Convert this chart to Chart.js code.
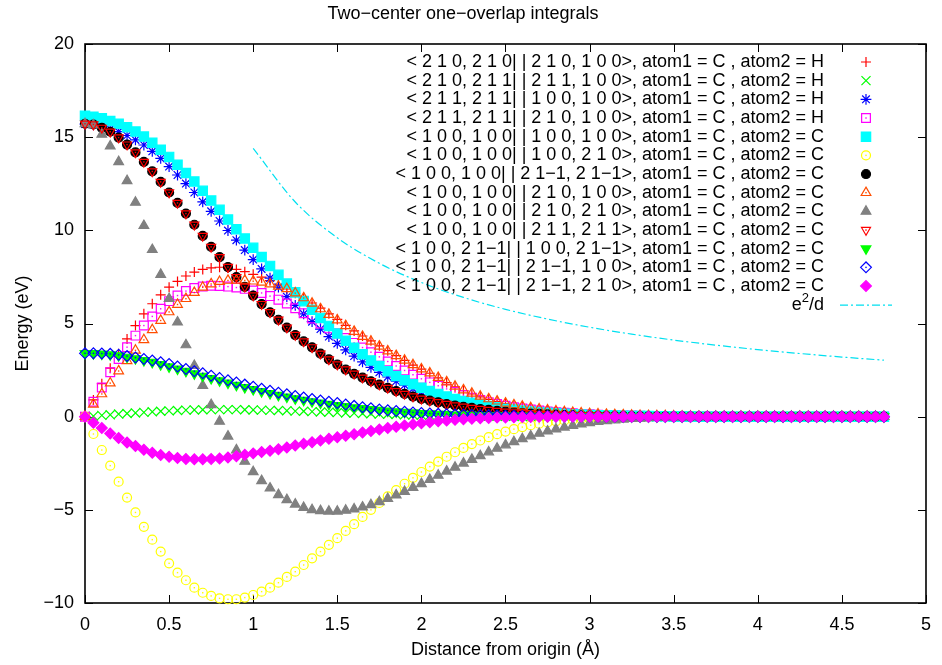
<!DOCTYPE html>
<html>
<head>
<meta charset="utf-8">
<title>Two-center one-overlap integrals</title>
<script src="https://cdn.jsdelivr.net/npm/chart.js@4.4.1/dist/chart.umd.min.js"></script>
<style>
  html, body { margin: 0; padding: 0; background: #fff; }
  #wrap { width: 942px; height: 665px; }
</style>
</head>
<body>
<div id="wrap"><canvas id="chartOverlap" width="942" height="665"></canvas></div>
<script>
// distance grid (Å), one sample every 0.05
const distances = [
  0, 0.05, 0.1, 0.15, 0.2, 0.25, 0.3, 0.35, 0.4, 0.45,
  0.5, 0.55, 0.6, 0.65, 0.7, 0.75, 0.8, 0.85, 0.9, 0.95,
  1, 1.05, 1.1, 1.15, 1.2, 1.25, 1.3, 1.35, 1.4, 1.45,
  1.5, 1.55, 1.6, 1.65, 1.7, 1.75, 1.8, 1.85, 1.9, 1.95,
  2, 2.05, 2.1, 2.15, 2.2, 2.25, 2.3, 2.35, 2.4, 2.45,
  2.5, 2.55, 2.6, 2.65, 2.7, 2.75, 2.8, 2.85, 2.9, 2.95,
  3, 3.05, 3.1, 3.15, 3.2, 3.25, 3.3, 3.35, 3.4, 3.45,
  3.5, 3.55, 3.6, 3.65, 3.7, 3.75, 3.8, 3.85, 3.9, 3.95,
  4, 4.05, 4.1, 4.15, 4.2, 4.25, 4.3, 4.35, 4.4, 4.45,
  4.5, 4.55, 4.6, 4.65, 4.7, 4.75,
];

// --- C-H integrals (eV) ---
const ch_210_210_210_100 = [
  0, 0.9, 1.77, 2.6, 3.38, 4.17, 4.89, 5.52, 6.06, 6.54,
  6.95, 7.26, 7.55, 7.76, 7.9, 7.98, 8.02, 7.98, 7.9, 7.78,
  7.64, 7.49, 7.3, 7.08, 6.86, 6.62, 6.38, 6.1, 5.82, 5.52,
  5.22, 4.9, 4.6, 4.33, 4.07, 3.8, 3.54, 3.28, 3.02, 2.77,
  2.55, 2.33, 2.08, 1.83, 1.6, 1.4, 1.22, 1.06, 0.93, 0.81,
  0.7, 0.61, 0.53, 0.46, 0.4, 0.34, 0.29, 0.25, 0.22, 0.19,
  0.16, 0.14, 0.12, 0.1, 0.09, 0.07, 0.06, 0.05, 0.04, 0.04,
  0.03, 0.02, 0.02, 0.01, 0.01, 0.01, 0, 0, 0, 0,
  0, 0, 0, 0, 0, 0, 0, 0, 0, 0,
  0, 0, 0, 0, 0, 0,
];
const ch_210_211_211_100 = [
  0, 0.03, 0.07, 0.1, 0.14, 0.17, 0.2, 0.23, 0.26, 0.29,
  0.31, 0.33, 0.35, 0.36, 0.37, 0.38, 0.38, 0.38, 0.38, 0.37,
  0.36, 0.35, 0.34, 0.33, 0.32, 0.3, 0.29, 0.27, 0.25, 0.24,
  0.22, 0.2, 0.19, 0.17, 0.16, 0.14, 0.13, 0.12, 0.1, 0.09,
  0.08, 0.07, 0.06, 0.06, 0.05, 0.04, 0.04, 0.03, 0.03, 0.02,
  0.02, 0.02, 0.01, 0.01, 0.01, 0.01, 0, 0, 0, 0,
  0, 0, 0, 0, 0, 0, 0, 0, 0, 0,
  0, 0, 0, 0, 0, 0, 0, 0, 0, 0,
  0, 0, 0, 0, 0, 0, 0, 0, 0, 0,
  0, 0, 0, 0, 0, 0,
];
const ch_211_211_100_100 = [
  15.7, 15.66, 15.57, 15.45, 15.3, 15.09, 14.85, 14.58, 14.24, 13.86,
  13.42, 12.97, 12.51, 12.03, 11.53, 11.02, 10.5, 9.99, 9.47, 8.94,
  8.43, 7.93, 7.44, 6.95, 6.44, 5.97, 5.52, 5.1, 4.7, 4.3,
  3.93, 3.58, 3.25, 2.94, 2.65, 2.38, 2.13, 1.9, 1.69, 1.5,
  1.33, 1.17, 1.03, 0.9, 0.79, 0.69, 0.6, 0.52, 0.45, 0.39,
  0.33, 0.28, 0.24, 0.2, 0.17, 0.14, 0.12, 0.1, 0.08, 0.07,
  0.06, 0.05, 0.04, 0.03, 0.03, 0.02, 0.02, 0.01, 0.01, 0,
  0, 0, 0, 0, 0, 0, 0, 0, 0, 0,
  0, 0, 0, 0, 0, 0, 0, 0, 0, 0,
  0, 0, 0, 0, 0, 0,
];
const ch_211_211_210_100 = [
  0, 0.8, 1.57, 2.38, 3.1, 3.73, 4.35, 4.89, 5.38, 5.79,
  6.2, 6.5, 6.74, 6.9, 6.99, 7.03, 7.01, 6.98, 6.93, 6.86,
  6.77, 6.64, 6.47, 6.28, 6.07, 5.82, 5.55, 5.27, 5.0, 4.74,
  4.48, 4.22, 3.96, 3.71, 3.46, 3.21, 2.96, 2.72, 2.48, 2.25,
  2.03, 1.84, 1.66, 1.49, 1.32, 1.16, 1.02, 0.89, 0.78, 0.68,
  0.59, 0.51, 0.44, 0.38, 0.33, 0.28, 0.24, 0.21, 0.18, 0.15,
  0.13, 0.11, 0.09, 0.08, 0.07, 0.06, 0.05, 0.04, 0.03, 0.03,
  0.02, 0.02, 0.01, 0.01, 0.01, 0, 0, 0, 0, 0,
  0, 0, 0, 0, 0, 0, 0, 0, 0, 0,
  0, 0, 0, 0, 0, 0,
];

// --- C-C integrals (eV) ---
const cc_100_100_100_100 = [
  16.15, 16.1, 16.02, 15.87, 15.72, 15.53, 15.3, 15.03, 14.7, 14.33,
  13.94, 13.52, 13.08, 12.62, 12.12, 11.6, 11.1, 10.58, 10.06, 9.56,
  9.06, 8.57, 8.09, 7.61, 7.14, 6.67, 6.2, 5.74, 5.3, 4.87,
  4.46, 4.07, 3.7, 3.35, 3.02, 2.72, 2.44, 2.18, 1.95, 1.74,
  1.55, 1.38, 1.22, 1.08, 0.95, 0.84, 0.74, 0.65, 0.57, 0.5,
  0.43, 0.38, 0.33, 0.28, 0.24, 0.21, 0.18, 0.15, 0.13, 0.11,
  0.09, 0.08, 0.07, 0.06, 0.05, 0.04, 0.03, 0.03, 0.02, 0.02,
  0.01, 0.01, 0.01, 0, 0, 0, 0, 0, 0, 0,
  0, 0, 0, 0, 0, 0, 0, 0, 0, 0,
  0, 0, 0, 0, 0, 0,
];
const cc_100_100_100_210 = [
  0, -0.93, -1.79, -2.63, -3.49, -4.34, -5.14, -5.91, -6.6, -7.24,
  -7.87, -8.37, -8.78, -9.18, -9.45, -9.62, -9.75, -9.8, -9.8, -9.71,
  -9.57, -9.39, -9.18, -8.91, -8.6, -8.32, -7.96, -7.6, -7.24, -6.88,
  -6.52, -6.13, -5.77, -5.38, -5.0, -4.63, -4.28, -3.94, -3.6, -3.28,
  -2.97, -2.68, -2.41, -2.15, -1.91, -1.68, -1.47, -1.28, -1.1, -0.94,
  -0.8, -0.67, -0.56, -0.46, -0.38, -0.31, -0.25, -0.2, -0.16, -0.12,
  -0.09, -0.07, -0.05, -0.04, -0.03, -0.02, -0.01, -0.01, 0, 0,
  0, 0, 0, 0, 0, 0, 0, 0, 0, 0,
  0, 0, 0, 0, 0, 0, 0, 0, 0, 0,
  0, 0, 0, 0, 0, 0,
];
const cc_100_100_21m1_21m1 = [
  15.72, 15.68, 15.5, 15.29, 14.98, 14.6, 14.18, 13.67, 13.16, 12.6,
  12.03, 11.47, 10.9, 10.3, 9.7, 9.11, 8.56, 8.03, 7.49, 6.97,
  6.5, 6.04, 5.6, 5.2, 4.78, 4.38, 4.04, 3.72, 3.38, 3.07,
  2.8, 2.53, 2.3, 2.09, 1.9, 1.72, 1.54, 1.37, 1.22, 1.08,
  0.96, 0.86, 0.77, 0.68, 0.6, 0.53, 0.47, 0.41, 0.36, 0.31,
  0.27, 0.23, 0.2, 0.17, 0.15, 0.13, 0.11, 0.09, 0.08, 0.07,
  0.06, 0.05, 0.04, 0.03, 0.03, 0.02, 0.02, 0.01, 0.01, 0.01,
  0, 0, 0, 0, 0, 0, 0, 0, 0, 0,
  0, 0, 0, 0, 0, 0, 0, 0, 0, 0,
  0, 0, 0, 0, 0, 0,
];
const cc_100_100_210_100 = [
  0, 0.66, 1.22, 1.8, 2.45, 3.0, 3.56, 4.12, 4.66, 5.16,
  5.62, 6.02, 6.33, 6.66, 6.94, 7.12, 7.25, 7.31, 7.32, 7.31,
  7.27, 7.21, 7.12, 6.99, 6.86, 6.63, 6.37, 6.08, 5.78, 5.48,
  5.18, 4.87, 4.57, 4.3, 4.04, 3.78, 3.52, 3.27, 3.02, 2.78,
  2.55, 2.34, 2.1, 1.86, 1.63, 1.43, 1.25, 1.09, 0.95, 0.83,
  0.72, 0.63, 0.55, 0.47, 0.41, 0.35, 0.3, 0.26, 0.22, 0.19,
  0.16, 0.14, 0.12, 0.1, 0.09, 0.07, 0.06, 0.05, 0.04, 0.04,
  0.03, 0.02, 0.02, 0.01, 0.01, 0.01, 0, 0, 0, 0,
  0, 0, 0, 0, 0, 0, 0, 0, 0, 0,
  0, 0, 0, 0, 0, 0,
];
const cc_100_100_210_210 = [
  15.72, 15.65, 15.15, 14.52, 13.68, 12.66, 11.5, 10.25, 8.96, 7.63,
  6.33, 5.07, 3.85, 2.74, 1.67, 0.64, -0.25, -1.05, -1.79, -2.4,
  -2.96, -3.44, -3.84, -4.19, -4.46, -4.7, -4.88, -5.0, -5.05, -5.08,
  -5.08, -5.03, -4.96, -4.86, -4.73, -4.57, -4.4, -4.21, -4.02, -3.81,
  -3.6, -3.38, -3.15, -2.93, -2.72, -2.5, -2.3, -2.1, -1.9, -1.7,
  -1.52, -1.35, -1.19, -1.04, -0.9, -0.78, -0.67, -0.57, -0.48, -0.4,
  -0.33, -0.27, -0.22, -0.18, -0.14, -0.11, -0.09, -0.07, -0.05, -0.04,
  -0.03, -0.02, -0.02, -0.01, -0.01, 0, 0, 0, 0, 0,
  0, 0, 0, 0, 0, 0, 0, 0, 0, 0,
  0, 0, 0, 0, 0, 0,
];
const cc_100_100_211_211 = [
  15.72, 15.68, 15.5, 15.29, 14.98, 14.6, 14.18, 13.67, 13.16, 12.6,
  12.03, 11.47, 10.9, 10.3, 9.7, 9.11, 8.56, 8.03, 7.49, 6.97,
  6.5, 6.04, 5.6, 5.2, 4.78, 4.38, 4.04, 3.72, 3.38, 3.07,
  2.8, 2.53, 2.3, 2.09, 1.9, 1.72, 1.54, 1.37, 1.22, 1.08,
  0.96, 0.86, 0.77, 0.68, 0.6, 0.53, 0.47, 0.41, 0.36, 0.31,
  0.27, 0.23, 0.2, 0.17, 0.15, 0.13, 0.11, 0.09, 0.08, 0.07,
  0.06, 0.05, 0.04, 0.03, 0.03, 0.02, 0.02, 0.01, 0.01, 0.01,
  0, 0, 0, 0, 0, 0, 0, 0, 0, 0,
  0, 0, 0, 0, 0, 0, 0, 0, 0, 0,
  0, 0, 0, 0, 0, 0,
];
const cc_100_21m1_100_21m1 = [
  3.4, 3.39, 3.37, 3.33, 3.28, 3.2, 3.12, 3.02, 2.92, 2.8,
  2.68, 2.56, 2.44, 2.31, 2.18, 2.05, 1.93, 1.81, 1.69, 1.57,
  1.46, 1.35, 1.25, 1.15, 1.06, 0.97, 0.89, 0.81, 0.74, 0.67,
  0.61, 0.55, 0.49, 0.44, 0.39, 0.35, 0.31, 0.27, 0.24, 0.21,
  0.18, 0.16, 0.14, 0.12, 0.1, 0.09, 0.08, 0.07, 0.06, 0.05,
  0.04, 0.04, 0.03, 0.03, 0.02, 0.02, 0.02, 0.01, 0.01, 0.01,
  0.01, 0, 0, 0, 0, 0, 0, 0, 0, 0,
  0, 0, 0, 0, 0, 0, 0, 0, 0, 0,
  0, 0, 0, 0, 0, 0, 0, 0, 0, 0,
  0, 0, 0, 0, 0, 0,
];
const cc_100_21m1_21m1_100 = [
  3.4, 3.4, 3.39, 3.37, 3.32, 3.25, 3.17, 3.1, 3.01, 2.92,
  2.83, 2.69, 2.56, 2.44, 2.33, 2.2, 2.08, 1.95, 1.84, 1.72,
  1.61, 1.5, 1.39, 1.29, 1.2, 1.11, 1.03, 0.95, 0.87, 0.8,
  0.73, 0.65, 0.58, 0.51, 0.45, 0.39, 0.34, 0.3, 0.26, 0.23,
  0.2, 0.17, 0.15, 0.13, 0.11, 0.1, 0.09, 0.08, 0.07, 0.06,
  0.05, 0.05, 0.04, 0.04, 0.03, 0.03, 0.02, 0.02, 0.02, 0.01,
  0.01, 0.01, 0, 0, 0, 0, 0, 0, 0, 0,
  0, 0, 0, 0, 0, 0, 0, 0, 0, 0,
  0, 0, 0, 0, 0, 0, 0, 0, 0, 0,
  0, 0, 0, 0, 0, 0,
];
const cc_100_21m1_21m1_210 = [
  0, -0.33, -0.61, -0.9, -1.15, -1.38, -1.58, -1.77, -1.94, -2.06,
  -2.15, -2.22, -2.27, -2.29, -2.29, -2.27, -2.24, -2.19, -2.12, -2.05,
  -1.97, -1.9, -1.83, -1.75, -1.65, -1.55, -1.46, -1.37, -1.28, -1.19,
  -1.11, -1.03, -0.94, -0.85, -0.77, -0.69, -0.61, -0.54, -0.47, -0.41,
  -0.35, -0.3, -0.25, -0.21, -0.17, -0.14, -0.11, -0.09, -0.07, -0.05,
  -0.04, -0.03, -0.02, -0.02, -0.01, -0.01, 0, 0, 0, 0,
  0, 0, 0, 0, 0, 0, 0, 0, 0, 0,
  0, 0, 0, 0, 0, 0, 0, 0, 0, 0,
  0, 0, 0, 0, 0, 0, 0, 0, 0, 0,
  0, 0, 0, 0, 0, 0,
];

// bare Coulomb repulsion e^2/d (eV) for comparison
const coulombDist = [1, 1.25, 1.5, 1.75, 2, 2.25, 2.5, 2.75, 3, 3.25, 3.5, 3.75, 4, 4.25, 4.5, 4.75];
const coulombEnergy = [14.4, 11.52, 9.6, 8.23, 7.2, 6.4, 5.76, 5.24, 4.8, 4.43, 4.11, 3.84, 3.6, 3.39, 3.2, 3.03];

// axis ticks
const xTicks = [0, 0.5, 1, 1.5, 2, 2.5, 3, 3.5, 4, 4.5, 5];
const yTicks = [-10, -5, 0, 5, 10, 15, 20];

const FONT = "'Liberation Sans', Arial, Helvetica, sans-serif";
const LINE_CYAN = "#00e0f0";

// marker series, gnuplot point types 1..13
const seriesDefs = [
  { label: "< 2 1 0, 2 1 0| | 2 1 0, 1 0 0>, atom1 = C , atom2 = H", data: ch_210_210_210_100, color: "#ff0000", style: "cross", r: 5, fill: false },
  { label: "< 2 1 0, 2 1 1| | 2 1 1, 1 0 0>, atom1 = C , atom2 = H", data: ch_210_211_211_100, color: "#00ff00", style: "crossRot", r: 6.4, fill: false },
  { label: "< 2 1 1, 2 1 1| | 1 0 0, 1 0 0>, atom1 = C , atom2 = H", data: ch_211_211_100_100, color: "#0000ff", style: "star", r: 5.4, fill: false },
  { label: "< 2 1 1, 2 1 1| | 2 1 0, 1 0 0>, atom1 = C , atom2 = H", data: ch_211_211_210_100, color: "#ff00ff", style: "rect", r: 6.2, fill: false, dot: true },
  { label: "< 1 0 0, 1 0 0| | 1 0 0, 1 0 0>, atom1 = C , atom2 = C", data: cc_100_100_100_100, color: "#00ffff", style: "rect", r: 6.6, fill: true },
  { label: "< 1 0 0, 1 0 0| | 1 0 0, 2 1 0>, atom1 = C , atom2 = C", data: cc_100_100_100_210, color: "#ffff00", style: "circle", r: 4.5, fill: false, dot: true },
  { label: "< 1 0 0, 1 0 0| | 2 1\u22121, 2 1\u22121>, atom1 = C , atom2 = C", data: cc_100_100_21m1_21m1, color: "#000000", style: "circle", r: 4.5, fill: true },
  { label: "< 1 0 0, 1 0 0| | 2 1 0, 1 0 0>, atom1 = C , atom2 = C", data: cc_100_100_210_100, color: "#ff4d00", style: "triangle", r: 5.6, fill: false, dot: true },
  { label: "< 1 0 0, 1 0 0| | 2 1 0, 2 1 0>, atom1 = C , atom2 = C", data: cc_100_100_210_210, color: "#808080", style: "triangle", r: 5.6, fill: true },
  { label: "< 1 0 0, 1 0 0| | 2 1 1, 2 1 1>, atom1 = C , atom2 = C", data: cc_100_100_211_211, color: "#ff0000", style: "triangle", r: 5.2, fill: false, dot: true, rot: 180 },
  { label: "< 1 0 0, 2 1\u22121| | 1 0 0, 2 1\u22121>, atom1 = C , atom2 = C", data: cc_100_21m1_100_21m1, color: "#00ff00", style: "triangle", r: 5.6, fill: true, rot: 180 },
  { label: "< 1 0 0, 2 1\u22121| | 2 1\u22121, 1 0 0>, atom1 = C , atom2 = C", data: cc_100_21m1_21m1_100, color: "#0000ff", style: "rectRot", r: 5.4, fill: false, dot: true },
  { label: "< 1 0 0, 2 1\u22121| | 2 1\u22121, 2 1 0>, atom1 = C , atom2 = C", data: cc_100_21m1_21m1_210, color: "#ff00ff", style: "rectRot", r: 5.4, fill: true },
];

document.addEventListener("DOMContentLoaded", () => {
  renderChart();
});

function buildDatasets() {
  const total = seriesDefs.length + 1;

  const sets = seriesDefs.map((s, i) => ({
    label: s.label,
    data: distances.map((d, k) => ({ x: d, y: s.data[k] })),
    showLine: false,
    pointStyle: s.style,
    pointRadius: s.r,
    pointRotation: s.rot || 0,
    pointBorderWidth: 1.2,
    pointBorderColor: s.color,
    pointBackgroundColor: s.fill ? s.color : "rgba(0,0,0,0)",
    borderColor: s.color,
    backgroundColor: s.fill ? s.color : "rgba(0,0,0,0)",
    centerDot: !!s.dot,
    clip: false,
    // later series sit on top, like gnuplot draws them
    order: total - i,
  }));

  sets.push({
    label: "e\u00b2/d",
    data: coulombDist.map((d, k) => ({ x: d, y: coulombEnergy[k] })),
    showLine: true,
    cubicInterpolationMode: "monotone",
    pointRadius: 0,
    borderColor: LINE_CYAN,
    borderWidth: 1.2,
    borderDash: [8, 3, 2, 3],
    fill: false,
    clip: false,
    order: 0,
  });
  return sets;
}

// open gnuplot symbols carry a small dot in the middle
const centerDotPlugin = {
  id: "centerDot",
  afterDatasetDraw(chart, args) {
    const ds = chart.data.datasets[args.index];
    if (!ds.centerDot) return;
    const ctx = chart.ctx;
    ctx.save();
    ctx.fillStyle = ds.borderColor;
    args.meta.data.forEach((el) => {
      ctx.fillRect(el.x - 0.7, el.y - 0.7, 1.4, 1.4);
    });
    ctx.restore();
  },
};

// box border with inward ticks on all four sides
const framePlugin = {
  id: "frame",
  beforeDatasetsDraw(chart) {
    const { ctx, chartArea: a, scales } = chart;
    const tick = 8;
    ctx.save();
    ctx.strokeStyle = "#000";
    ctx.lineWidth = 1;
    ctx.beginPath();
    xTicks.forEach((v) => {
      const px = Math.round(scales.x.getPixelForValue(v)) + 0.5;
      ctx.moveTo(px, a.bottom);
      ctx.lineTo(px, a.bottom - tick);
      ctx.moveTo(px, a.top);
      ctx.lineTo(px, a.top + tick);
    });
    yTicks.forEach((v) => {
      const py = Math.round(scales.y.getPixelForValue(v)) + 0.5;
      ctx.moveTo(a.left, py);
      ctx.lineTo(a.left + tick, py);
      ctx.moveTo(a.right, py);
      ctx.lineTo(a.right - tick, py);
    });
    ctx.stroke();
    ctx.lineWidth = 1.6;
    ctx.strokeRect(a.left, a.top, a.right - a.left, a.bottom - a.top);
    ctx.restore();
  },
};

function drawMarker(ctx, def, x, y) {
  ctx.save();
  ctx.strokeStyle = def.color;
  ctx.fillStyle = def.fill ? def.color : "rgba(0,0,0,0)";
  ctx.lineWidth = 1.2;
  if (Chart.helpers && Chart.helpers.drawPoint) {
    Chart.helpers.drawPoint(ctx, { pointStyle: def.style, radius: def.r, rotation: def.rot || 0, borderWidth: 1.2 }, x, y);
  } else {
    ctx.beginPath();
    ctx.arc(x, y, def.r, 0, Math.PI * 2);
    if (def.fill) ctx.fill();
    ctx.stroke();
  }
  if (def.dot) {
    ctx.fillStyle = def.color;
    ctx.fillRect(x - 0.7, y - 0.7, 1.4, 1.4);
  }
  ctx.restore();
}

// key in the upper right corner, text right-justified with the sample after it
const keyPlugin = {
  id: "key",
  afterDatasetsDraw(chart) {
    const ctx = chart.ctx;
    const textRight = 824;
    const sampleX = 866;
    const rowTop = 62;
    const rowStep = 18.67;
    ctx.save();
    ctx.font = "18px " + FONT;
    ctx.fillStyle = "#000";
    ctx.textAlign = "right";
    ctx.textBaseline = "middle";
    seriesDefs.forEach((def, i) => {
      const y = rowTop + i * rowStep;
      ctx.fillText(def.label, textRight, y);
      drawMarker(ctx, def, sampleX, y);
    });

    // e²/d entry: superscript drawn smaller and raised
    const ly = rowTop + seriesDefs.length * rowStep;
    const tail = "/d";
    ctx.fillText(tail, textRight, ly);
    let cx = textRight - ctx.measureText(tail).width;
    ctx.font = "13px " + FONT;
    ctx.fillText("2", cx, ly - 6);
    cx -= ctx.measureText("2").width;
    ctx.font = "18px " + FONT;
    ctx.fillText("e", cx, ly);

    ctx.strokeStyle = LINE_CYAN;
    ctx.lineWidth = 1.2;
    ctx.setLineDash([8, 3, 2, 3]);
    ctx.beginPath();
    ctx.moveTo(840, ly + 0.5);
    ctx.lineTo(892, ly + 0.5);
    ctx.stroke();
    ctx.restore();
  },
};

// title above the frame
const titlePlugin = {
  id: "plotTitle",
  afterDraw(chart) {
    const ctx = chart.ctx;
    ctx.save();
    ctx.font = "18px " + FONT;
    ctx.fillStyle = "#000";
    ctx.textAlign = "center";
    ctx.textBaseline = "middle";
    ctx.fillText("Two\u2212center one\u2212overlap integrals", 463, 14);
    ctx.restore();
  },
};

function renderChart() {
  const ctx = document.getElementById("chartOverlap").getContext("2d");

  new Chart(ctx, {
    type: "scatter",
    data: { datasets: buildDatasets() },
    plugins: [framePlugin, centerDotPlugin, keyPlugin, titlePlugin],
    options: {
      responsive: false,
      animation: false,
      events: [],
      layout: { padding: { top: 44, right: 10, left: 0, bottom: 0 } },
      plugins: {
        legend: { display: false },
        title: { display: false },
        tooltip: { enabled: false },
      },
      scales: {
        x: {
          type: "linear",
          min: 0,
          max: 5,
          afterBuildTicks: (scale) => {
            scale.ticks = xTicks.map((v) => ({ value: v }));
          },
          afterFit: (scale) => {
            scale.height = 62;
          },
          grid: { display: false, drawTicks: false },
          border: { display: false },
          ticks: {
            padding: 11,
            color: "#000",
            font: { family: FONT, size: 18 },
            maxRotation: 0,
            callback: (v) => String(+v.toFixed(2)),
          },
          title: {
            display: true,
            text: "Distance from origin (\u00c5)",
            color: "#000",
            font: { family: FONT, size: 18 },
            padding: { top: 0, bottom: 4 },
          },
        },
        y: {
          type: "linear",
          min: -10,
          max: 20,
          afterBuildTicks: (scale) => {
            scale.ticks = yTicks.map((v) => ({ value: v }));
          },
          afterFit: (scale) => {
            scale.width = 85;
          },
          grid: { display: false, drawTicks: false },
          border: { display: false },
          ticks: {
            padding: 11,
            color: "#000",
            font: { family: FONT, size: 18 },
            callback: (v) => (v < 0 ? "\u2212" + Math.abs(v) : String(v)),
          },
          title: {
            display: true,
            text: "Energy (eV)",
            color: "#000",
            font: { family: FONT, size: 18 },
            padding: { top: 12, bottom: 0 },
          },
        },
      },
    },
  });
}
</script>
</body>
</html>
